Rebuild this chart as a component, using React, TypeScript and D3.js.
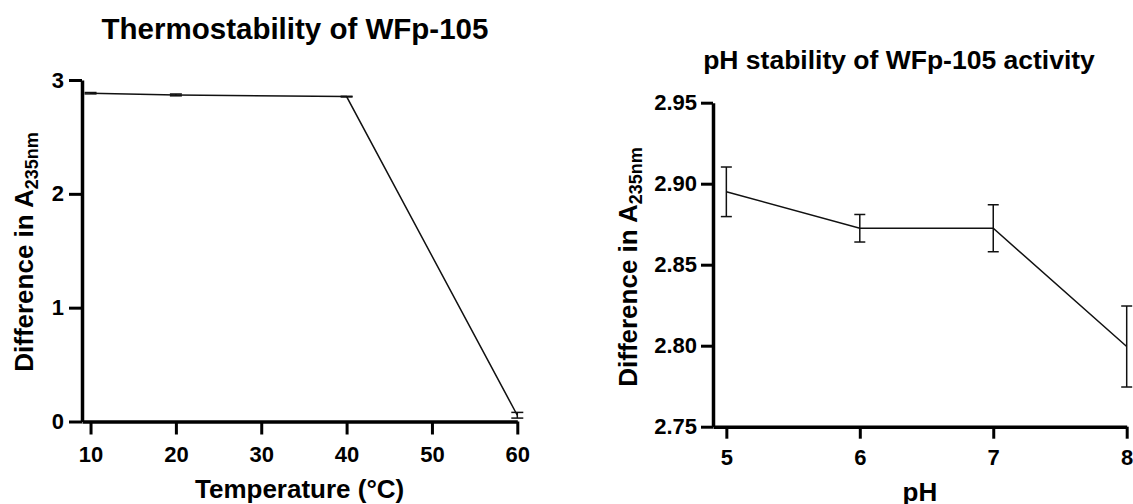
import React from "react";
import { useRef, useEffect } from "react";
import * as d3 from "d3";

// Thermostability panel
const tempC = [10, 20, 40, 60];
const tempMean = [2.884, 2.869, 2.854, 0.055];
const tempSd = [0.006, 0.008, 0.003, 0.025];
const tempXTicks = [10, 20, 30, 40, 50, 60];
const tempYTicks = [0, 1, 2, 3];

// pH stability panel
const phValues = [5, 6, 7, 8];
const phMean = [2.895, 2.8725, 2.8725, 2.7995];
const phSd = [0.0153, 0.0085, 0.0145, 0.025];
const phXTicks = [5, 6, 7, 8];
const phYTicks = [2.75, 2.8, 2.85, 2.9, 2.95];

const FONT = "'Liberation Sans', Arial, sans-serif";

function drawPanel(svg, opts) {
  const {
    xs, means, sds, xDomain, yDomain, xRange, yRange, xTicks, yTicks,
    yFormat, tick, xPad, yPad, cap, title, titleX, titleY, titleSize,
    xLabel, xLabelY, yLabelX, yLabelY,
  } = opts;

  const x = d3.scaleLinear().domain(xDomain).range(xRange);
  const y = d3.scaleLinear().domain(yDomain).range(yRange);
  const g = svg.append("g");

  // axes
  const xAxis = g
    .append("g")
    .attr("transform", `translate(0,${yRange[0]})`)
    .call(
      d3.axisBottom(x).tickValues(xTicks).tickSize(tick).tickSizeOuter(0).tickPadding(xPad)
        .tickFormat(d3.format("d"))
    );
  const yAxis = g
    .append("g")
    .attr("transform", `translate(${xRange[0]},0)`)
    .call(
      d3.axisLeft(y).tickValues(yTicks).tickSize(tick).tickSizeOuter(0).tickPadding(yPad)
        .tickFormat(yFormat)
    );
  [xAxis, yAxis].forEach((a) => {
    a.select(".domain").attr("stroke", "#000").attr("stroke-width", 3.5);
    a.selectAll(".tick line").attr("stroke", "#000").attr("stroke-width", 3);
    a.selectAll("text")
      .attr("font-family", FONT)
      .attr("font-size", 22)
      .attr("font-weight", "bold")
      .attr("fill", "#000");
  });

  // data line
  const pts = xs.map((v, i) => [x(v), y(means[i])]);
  g.append("path")
    .attr("d", d3.line()(pts))
    .attr("fill", "none")
    .attr("stroke", "#111")
    .attr("stroke-width", 1.5);

  // error bars
  const eb = g.selectAll(".eb").data(xs).enter().append("g");
  eb.append("line")
    .attr("x1", (d) => x(d))
    .attr("x2", (d) => x(d))
    .attr("y1", (d, i) => y(means[i] + sds[i]))
    .attr("y2", (d, i) => y(means[i] - sds[i]))
    .attr("stroke", "#111")
    .attr("stroke-width", 1.5);
  [1, -1].forEach((s) => {
    eb.append("line")
      .attr("x1", (d) => x(d) - cap / 2)
      .attr("x2", (d) => x(d) + cap / 2)
      .attr("y1", (d, i) => y(means[i] + s * sds[i]))
      .attr("y2", (d, i) => y(means[i] + s * sds[i]))
      .attr("stroke", "#111")
      .attr("stroke-width", 1.5);
  });

  // titles
  g.append("text")
    .attr("x", titleX)
    .attr("y", titleY)
    .attr("text-anchor", "middle")
    .attr("font-family", FONT)
    .attr("font-weight", "bold")
    .attr("font-size", titleSize)
    .text(title);

  g.append("text")
    .attr("x", (xRange[0] + xRange[1]) / 2)
    .attr("y", xLabelY)
    .attr("text-anchor", "middle")
    .attr("font-family", FONT)
    .attr("font-weight", "bold")
    .attr("font-size", 26)
    .text(xLabel);

  const yl = g
    .append("text")
    .attr("transform", `translate(${yLabelX},${yLabelY}) rotate(-90)`)
    .attr("text-anchor", "middle")
    .attr("font-family", FONT)
    .attr("font-weight", "bold")
    .attr("font-size", 26);
  yl.append("tspan").text("Difference in A");
  yl.append("tspan").attr("dy", 5).attr("font-size", 18).text("235nm");
}

export default function App() {
  const ref = useRef(null);

  useEffect(() => {
    const svg = d3.select(ref.current);
    svg.selectAll("*").remove();

    drawPanel(svg, {
      xs: tempC,
      means: tempMean,
      sds: tempSd,
      xDomain: [9, 60],
      yDomain: [0, 3],
      xRange: [82, 517.3],
      yRange: [421.5, 80],
      xTicks: tempXTicks,
      yTicks: tempYTicks,
      yFormat: d3.format("d"),
      tick: 13,
      xPad: 12,
      yPad: 5,
      cap: 12,
      title: "Thermostability of WFp-105",
      titleX: 295,
      titleY: 39,
      titleSize: 29.5,
      xLabel: "Temperature (°C)",
      xLabelY: 498,
      yLabelX: 33,
      yLabelY: 252,
    });

    drawPanel(svg, {
      xs: phValues,
      means: phMean,
      sds: phSd,
      xDomain: [4.9, 8],
      yDomain: [2.75, 2.95],
      xRange: [713, 1126.7],
      yRange: [426.7, 102.7],
      xTicks: phXTicks,
      yTicks: phYTicks,
      yFormat: d3.format(".2f"),
      tick: 12,
      xPad: 11,
      yPad: 4,
      cap: 11,
      title: "pH stability of WFp-105 activity",
      titleX: 899,
      titleY: 69,
      titleSize: 26.5,
      xLabel: "pH",
      xLabelY: 501,
      yLabelX: 637,
      yLabelY: 267,
    });
  }, []);

  return (
    <svg
      ref={ref}
      width={1133}
      height={504}
      style={{ position: "absolute", left: 0, top: 0, background: "#fff" }}
    />
  );
}
